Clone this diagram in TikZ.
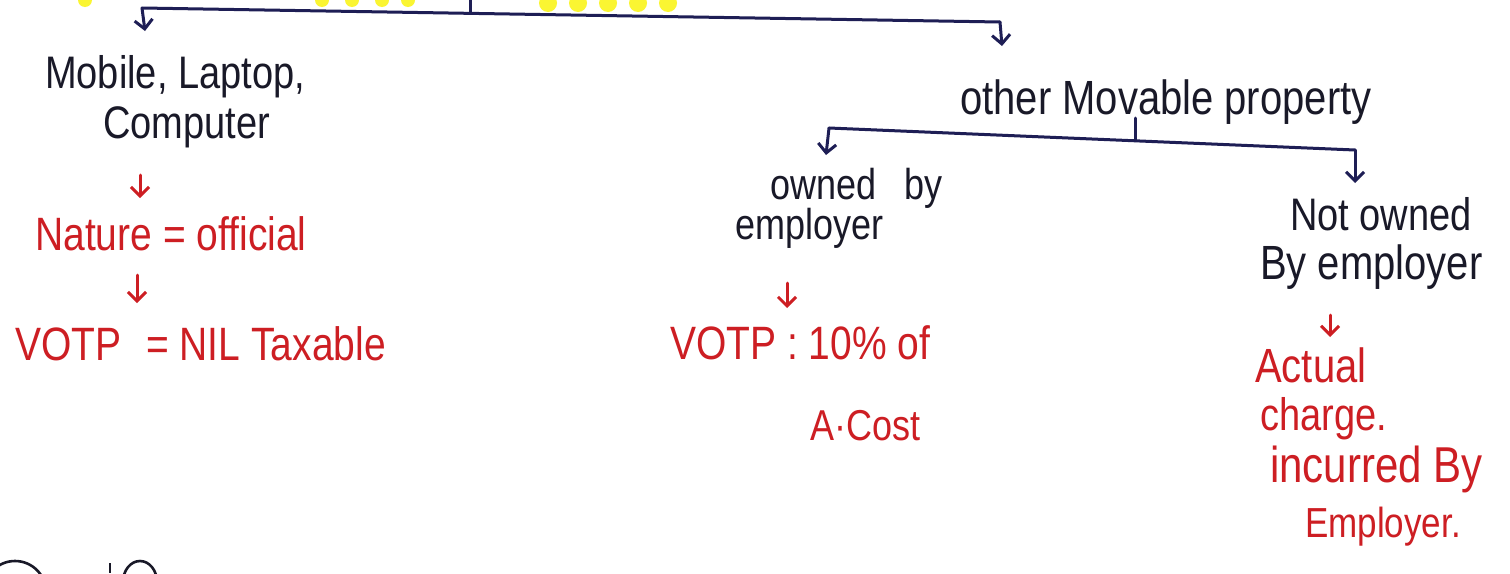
\documentclass[tikz,border=0pt]{standalone}
\usepackage{graphicx}
\usepackage{fontspec}
\setmainfont{Liberation Sans}
\usetikzlibrary{arrows.meta}
\definecolor{ink}{RGB}{25,25,40}
\definecolor{pen}{RGB}{30,30,85}
\definecolor{redink}{RGB}{205,30,35}
\definecolor{hl}{RGB}{250,245,50}
\newcommand{\fs}[1]{\fontsize{#1}{#1}\selectfont}
\newcommand{\hw}[1]{\scalebox{1}[1.2]{#1}}
\begin{document}
\begin{tikzpicture}[x=1pt,y=-1pt,
  txt/.style={anchor=base west, inner sep=0pt, text=ink, font=\fs{36}},
  rtxt/.style={txt, text=redink},
  wire/.style={draw=pen, line width=3pt, line cap=round},
  arr/.style={wire, -{Straight Barb[length=9pt,width=18pt,line width=3pt]}},
  rarr/.style={arr, draw=redink},
  blob/.style={fill=hl},
  frag/.style={draw=ink, line width=2.6pt}]
\useasboundingbox (0,0) rectangle (1510,573);
\fill[white] (0,0) rectangle (1510,573);

% yellow highlighter traces at the top edge
\foreach \x in {85,322,352,382,408} \fill[blob] (\x,0) circle (7);
\foreach \x in {548,578,608,638,668} \fill[blob] (\x,3) circle (9);

% top-level branch
\coordinate (tl) at (142,8);
\coordinate (tr) at (1000,22);
\coordinate (tm) at (470,13.4);
\coordinate (ttop) at (470,0);
\coordinate (mobin) at (145,31);
\coordinate (ompin) at (1002,46);
\draw[wire] (tl) -- (tr);
\draw[wire] (ttop) -- (tm);
\draw[arr] (tl) -- (mobin);
\draw[arr] (tr) -- (ompin);

% left column
\node[txt, font=\fs{38}] (mob) at (45,88) {\hw{Mobile, Laptop,}};
\node[txt, font=\fs{38}] (comp) at (103,138) {\hw{Computer}};
\coordinate (a1s) at (140,175);
\coordinate (a1e) at (140,198);
\draw[rarr] (a1s) -- (a1e);
\node[rtxt, font=\fs{39}] (nat) at (35,250) {\hw{Nature = official}};
\coordinate (a2s) at (137,275);
\coordinate (a2e) at (137,303);
\draw[rarr] (a2s) -- (a2e);
\node[rtxt, font=\fs{39}] (votp1) at (15,360) {\hw{VOTP\hspace{14pt} = NIL Taxable}};

% right part
\node[txt, font=\fs{40}] (omp) at (960,114) {\hw{other Movable property}};
\coordinate (ol) at (829,128);
\coordinate (or) at (1355,150);
\coordinate (om) at (1135,140.5);
\coordinate (otop) at (1135,118);
\coordinate (ownin) at (826,155);
\coordinate (notin) at (1355,183);
\draw[wire] (ol) -- (or);
\draw[wire] (otop) -- (om);
\draw[arr] (ol) -- (ownin);
\draw[arr] (or) -- (notin);

\node[txt] (own) at (770,199) {\hw{owned\hspace{28pt}by}};
\node[txt] (emp) at (735,239) {\hw{employer}};
\coordinate (a3s) at (787,283);
\coordinate (a3e) at (787,308);
\draw[rarr] (a3s) -- (a3e);
\node[rtxt, font=\fs{39}] (votp2) at (670,359) {\hw{VOTP : 10\% of}};
\node[rtxt] (acost) at (810,440) {\hw{A·Cost}};

\node[txt, font=\fs{38}] (notown) at (1290,230) {\hw{Not owned}};
\node[txt, font=\fs{40}] (byemp) at (1260,279) {\hw{By employer}};
\coordinate (a4s) at (1330,315);
\coordinate (a4e) at (1330,337);
\draw[rarr] (a4s) -- (a4e);
\node[rtxt, font=\fs{40}] (actual) at (1255,382) {\hw{Actual}};
\node[rtxt, font=\fs{38}] (charge) at (1260,430) {\hw{charge.}};
\node[rtxt, font=\fs{42}] (incur) at (1270,482) {\hw{incurred By}};
\node[rtxt, font=\fs{35}] (empl) at (1305,537) {\hw{Employer.}};

% cut-off fragments at the bottom edge
\draw[frag] (15,592) circle (31);
\draw[frag] (110,563) -- (110,573);
\draw[frag] (140,582) ellipse (17 and 21);
\end{tikzpicture}
\end{document}
